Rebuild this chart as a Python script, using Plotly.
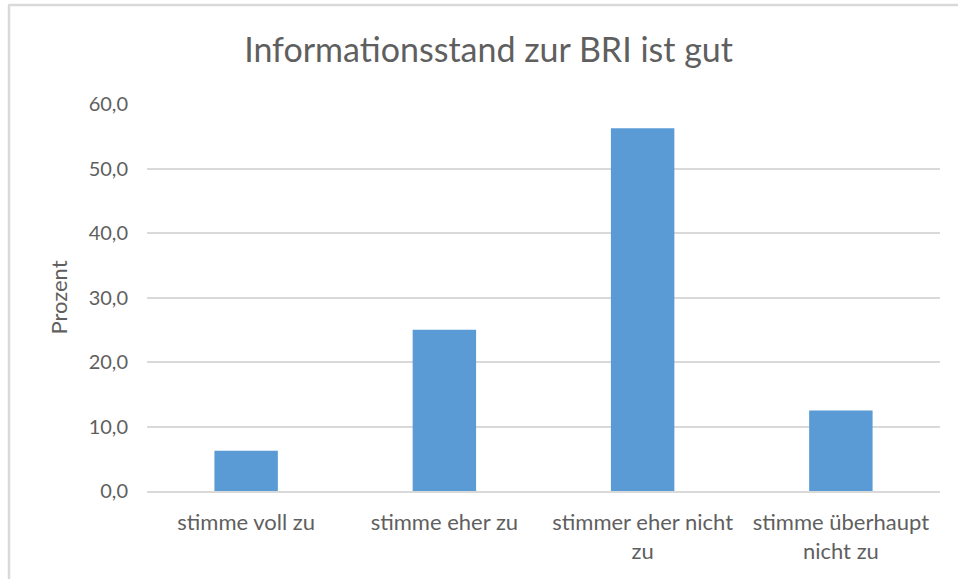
import plotly.graph_objects as go

# Daten
kategorien = ["stimme voll zu", "stimme eher zu", "stimmer eher nicht<br>zu", "stimme überhaupt<br>nicht zu"]
prozent = [6.25, 25.0, 56.25, 12.5]
y_ticks = [0, 10, 20, 30, 40, 50, 60]
y_tick_labels = ["0,0", "10,0", "20,0", "30,0", "40,0", "50,0", "60,0"]

text_farbe = "#5f5f5f"
grid_farbe = "#d9d9d9"
schrift = "Lato"

fig = go.Figure()
fig.add_trace(go.Bar(
    x=kategorien,
    y=prozent,
    marker=dict(color="#5b9bd5", line=dict(width=0)),
    hoverinfo="x+y",
))

fig.update_layout(
    width=958,
    height=579,
    margin=dict(l=147, r=18, t=104, b=88),
    paper_bgcolor="white",
    plot_bgcolor="white",
    font=dict(family=schrift, color=text_farbe, size=20),
    title=dict(
        text="Informationsstand zur BRI ist gut",
        x=0.51, xanchor="center",
        y=1 - 50 / 579, yanchor="middle",
        font=dict(size=34, color=text_farbe),
    ),
    bargap=0.68,
    showlegend=False,
    shapes=[
        # Rahmen oben und links
        dict(type="line", xref="paper", yref="paper",
             x0=-0.175, x1=1.03, y0=1 + 99 / 387, y1=1 + 99 / 387,
             line=dict(color=grid_farbe, width=2.5)),
        dict(type="line", xref="paper", yref="paper",
             x0=-0.174, x1=-0.174, y0=-0.23, y1=1 + 99 / 387,
             line=dict(color=grid_farbe, width=2.5)),
    ],
)

fig.update_yaxes(
    range=[0, 60],
    tickvals=y_ticks,
    ticktext=y_tick_labels,
    showgrid=True,
    gridcolor=grid_farbe,
    gridwidth=1.5,
    zeroline=False,
    showline=False,
    ticks="",
    ticklabelstandoff=18,
    tickfont=dict(size=20, color=text_farbe),
    title=dict(text="Prozent", standoff=14, font=dict(size=22, color=text_farbe)),
)

fig.update_xaxes(
    showline=True,
    linecolor=grid_farbe,
    linewidth=1.5,
    ticks="",
    ticklabelstandoff=11,
    tickfont=dict(size=22, color=text_farbe),
    tickangle=0,
)

# Seitenrand des Browsers entfernen, damit die Figur bei (0,0) sitzt
fig.write_html("out.html", config={"displayModeBar": False},
               post_script="document.body.style.margin='0';")
